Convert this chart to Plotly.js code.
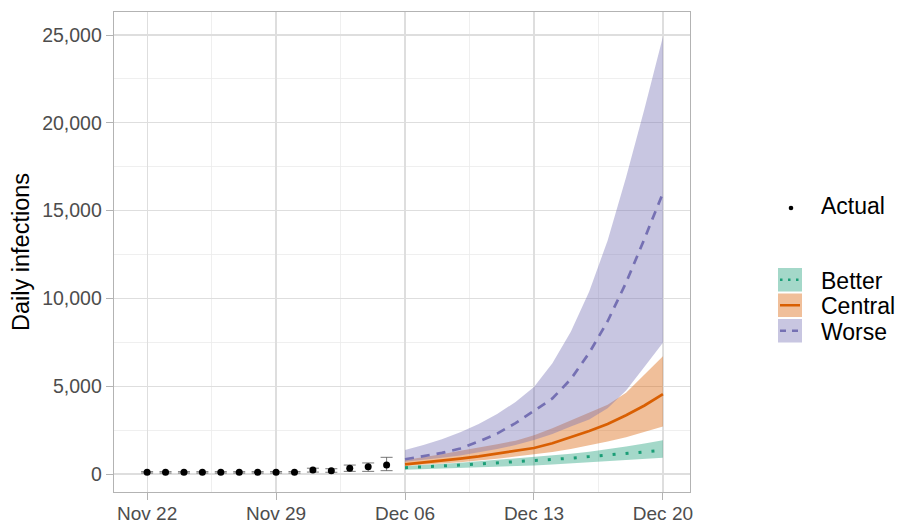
<!DOCTYPE html>
<html>
<head>
<meta charset="utf-8">
<script src="https://cdn.plot.ly/plotly-3.0.1.min.js"></script>
<style>html,body{margin:0;padding:0;background:#fff;}#chart{width:905px;height:524px;}</style>
</head>
<body>
<div id="chart"></div>
<script>
// ---- Data ----
const actualDates = ['2021-11-22','2021-11-23','2021-11-24','2021-11-25','2021-11-26','2021-11-27','2021-11-28',
  '2021-11-29','2021-11-30','2021-12-01','2021-12-02','2021-12-03','2021-12-04','2021-12-05'];
const actualValues = [95, 95, 95, 95, 95, 95, 95, 95, 95, 228, 190, 323, 418, 513];
const actualLow    = [55, 55, 55, 55, 55, 55, 55, 55, 55, 110, 100, 150, 150, 190];
const actualHigh   = [135,135,135,135,135,135,135,140,140, 330, 300, 510, 630, 950];

const projDates = ['2021-12-06','2021-12-07','2021-12-08','2021-12-09','2021-12-10','2021-12-11','2021-12-12',
  '2021-12-13','2021-12-14','2021-12-15','2021-12-16','2021-12-17','2021-12-18','2021-12-19','2021-12-20'];

const betterMid   = [360, 400, 450, 510, 570, 630, 690, 750, 820, 900, 990, 1070, 1160, 1250, 1350];
const betterLow   = [240, 280, 320, 360, 390, 420, 450, 490, 540, 600, 660, 720, 790, 850, 920];
const betterHigh  = [460, 510, 570, 640, 720, 800, 870, 950, 1050, 1150, 1270, 1400, 1560, 1730, 1920];

const centralMid  = [550, 650, 760, 880, 1000, 1150, 1300, 1480, 1750, 2100, 2450, 2850, 3350, 3900, 4550];
const centralLow  = [470, 530, 600, 670, 760, 870, 990, 1100, 1250, 1430, 1620, 1850, 2100, 2400, 2700];
const centralHigh = [800, 950, 1120, 1320, 1530, 1700, 1900, 2200, 2600, 3050, 3500, 3950, 4620, 5660, 6700];

const worseMid    = [840, 1000, 1200, 1450, 1850, 2300, 2900, 3600, 4300, 5400, 6900, 8700, 10900, 13400, 16000];
const worseLow    = [700, 800, 920, 1060, 1220, 1420, 1650, 1930, 2280, 2700, 3100, 3750, 4750, 6110, 7480];
const worseHigh   = [1370, 1650, 1980, 2380, 2850, 3420, 4100, 4950, 6300, 8100, 10400, 13300, 16900, 20800, 24900];

const scenarioNames = ['Better', 'Central', 'Worse'];
const tickValsY = [0, 5000, 10000, 15000, 20000, 25000];
const tickLabelsY = ['0', '5,000', '10,000', '15,000', '20,000', '25,000'];
const minorValsY = [2500, 7500, 12500, 17500, 22500];
const tickValsX = ['2021-11-22', '2021-11-29', '2021-12-06', '2021-12-13', '2021-12-20'];
const tickLabelsX = ['Nov 22', 'Nov 29', 'Dec 06', 'Dec 13', 'Dec 20'];
const minorValsX = ['2021-11-18 12:00', '2021-11-25 12:00', '2021-12-02 12:00', '2021-12-09 12:00', '2021-12-16 12:00'];

// ---- Styles ----
const lineColors = ['#1b9e77', '#d95f02', '#7570b3'];
const fillColors = ['rgba(27,158,119,0.4)', 'rgba(217,95,2,0.4)', 'rgba(117,112,179,0.4)'];
const dashes = ['3px,10px', 'solid', '9px,7px'];
const FONT = 'Liberation Sans, Arial, sans-serif';

const mids = [betterMid, centralMid, worseMid];
const lows = [betterLow, centralLow, worseLow];
const highs = [betterHigh, centralHigh, worseHigh];

const traces = [];
// ribbons
for (let i = 0; i < 3; i++) {
  traces.push({
    x: projDates.concat(projDates.slice().reverse()),
    y: highs[i].concat(lows[i].slice().reverse()),
    type: 'scatter', mode: 'lines', fill: 'toself',
    fillcolor: fillColors[i], line: {width: 0},
    hoverinfo: 'skip', showlegend: false, name: scenarioNames[i] + ' range'
  });
}
// median lines
for (let i = 0; i < 3; i++) {
  traces.push({
    x: projDates, y: mids[i], type: 'scatter', mode: 'lines',
    line: {color: lineColors[i], width: i === 0 ? 3 : 2.7, dash: dashes[i]},
    name: scenarioNames[i], showlegend: false
  });
}
// actual
traces.push({
  x: actualDates, y: actualValues, type: 'scatter', mode: 'markers',
  marker: {color: '#000', size: 7},
  error_y: {
    type: 'data', symmetric: false,
    array: actualHigh.map((h, k) => h - actualValues[k]),
    arrayminus: actualValues.map((v, k) => v - actualLow[k]),
    color: '#555', thickness: 0.8, width: 6
  },
  name: 'Actual', showlegend: false
});

// ---- custom legend (ggplot-like keys) ----
const L = 114, R = 690, T = 12, B = 492;
const px = v => (v - L) / (R - L);
const py = v => (B - v) / (B - T);
const shapes = [];
const annotations = [];
const keyTops = [268, 293.5, 319];
for (let i = 0; i < 3; i++) {
  const t = keyTops[i], b = t + 23.5, c = (t + b) / 2;
  shapes.push({type: 'rect', xref: 'paper', yref: 'paper', x0: px(778), x1: px(802), y0: py(b), y1: py(t),
    fillcolor: fillColors[i], line: {width: 0}, layer: 'above'});
  shapes.push({type: 'line', xref: 'paper', yref: 'paper', x0: px(780), x1: px(800), y0: py(c), y1: py(c),
    line: {color: lineColors[i], width: 2.5, dash: i === 0 ? '2.5px,5.5px' : (i === 1 ? 'solid' : '6px,6px')}, layer: 'above'});
  annotations.push({xref: 'paper', yref: 'paper', x: px(819), y: py(c + 1), xanchor: 'left', yanchor: 'middle',
    text: scenarioNames[i], showarrow: false, font: {family: FONT, size: 23, color: '#000'}});
}
shapes.push({type: 'circle', xref: 'paper', yref: 'paper', x0: px(788.7), x1: px(793.3), y0: py(210.3), y1: py(205.7),
  fillcolor: '#000', line: {width: 0}, layer: 'above'});
annotations.push({xref: 'paper', yref: 'paper', x: px(819), y: py(206), xanchor: 'left', yanchor: 'middle',
  text: 'Actual', showarrow: false, font: {family: FONT, size: 23, color: '#000'}});

const layout = {
  width: 905, height: 524,
  margin: {l: L, r: 905 - R, t: T, b: 524 - B},
  paper_bgcolor: '#fff', plot_bgcolor: '#fff',
  showlegend: false,
  font: {family: FONT},
  xaxis: {
    type: 'date',
    range: ['2021-11-20 04:51', '2021-12-21 11:17'],
    tickmode: 'array', tickvals: tickValsX, ticktext: tickLabelsX,
    showgrid: true, gridcolor: '#dedede', gridwidth: 1.2,
    minor: {tickmode: 'array', tickvals: minorValsX, showgrid: true, gridcolor: '#ebebeb', gridwidth: 0.8, ticklen: 0},
    ticks: 'outside', ticklen: 7, tickcolor: '#b3b3b3', tickwidth: 1,
    ticklabelstandoff: -3,
    showline: true, mirror: true, linecolor: '#b3b3b3', linewidth: 1.3,
    zeroline: false,
    tickfont: {family: FONT, size: 19, color: '#4d4d4d'}
  },
  yaxis: {
    range: [-1025, 26310],
    tickmode: 'array', tickvals: tickValsY, ticktext: tickLabelsY,
    showgrid: true, gridcolor: '#dedede', gridwidth: 1.2,
    minor: {tickmode: 'array', tickvals: minorValsY, showgrid: true, gridcolor: '#ebebeb', gridwidth: 0.8, ticklen: 0},
    ticks: 'outside', ticklen: 7, tickcolor: '#b3b3b3', tickwidth: 1,
    showline: true, mirror: true, linecolor: '#b3b3b3', linewidth: 1.3,
    zeroline: false,
    tickfont: {family: FONT, size: 19.5, color: '#4d4d4d'},
    title: {text: 'Daily infections', font: {family: FONT, size: 23.5, color: '#000'}, standoff: 6}
  },
  shapes: shapes,
  annotations: annotations
};

Plotly.newPlot('chart', traces, layout, {displayModeBar: false, staticPlot: true});
</script>
</body>
</html>
